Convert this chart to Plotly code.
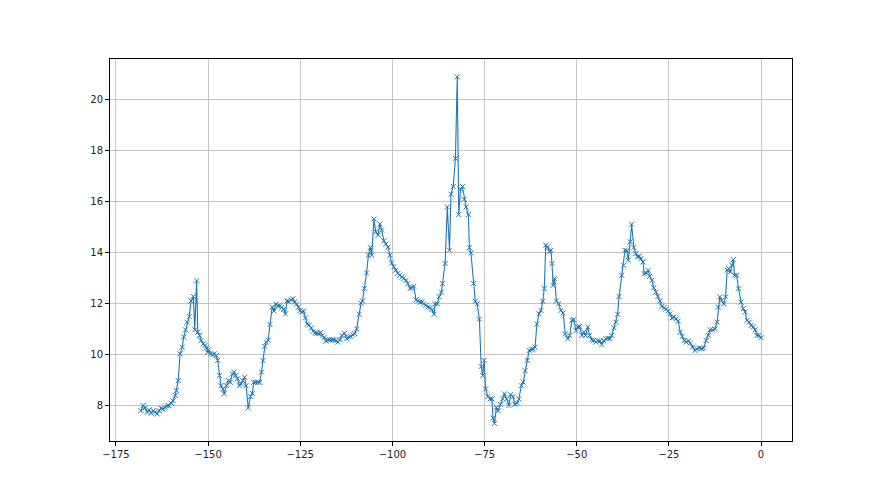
import plotly.graph_objects as go

# sample positions (hours relative to now) and readings
hours = [
    -168.2, -167.6, -167.1, -166.5, -166.0, -165.4, -164.9, -164.4, -163.8, -163.3,
    -162.7, -162.2, -161.7, -161.1, -160.6, -160.0, -159.5, -158.9, -158.6, -158.1,
    -157.6, -157.0, -156.6, -156.1, -155.7, -155.1, -154.6, -154.0, -153.6, -153.1,
    -152.8, -152.3, -151.9, -151.3, -150.8, -150.4, -150.1, -149.9, -149.3, -148.8,
    -148.3, -147.8, -147.4, -146.9, -146.5, -146.0, -145.6, -145.0, -144.5, -144.0,
    -143.4, -143.0, -142.5, -142.0, -141.5, -141.0, -140.6, -140.1, -139.7, -139.1,
    -138.5, -138.0, -137.6, -137.1, -136.5, -136.0, -135.5, -135.1, -134.6, -134.2,
    -133.7, -133.2, -132.6, -132.1, -131.6, -131.0, -130.5, -130.0, -129.5, -129.0,
    -128.6, -128.1, -127.5, -127.0, -126.5, -126.0, -125.5, -125.1, -124.6, -124.1,
    -123.6, -123.1, -122.6, -122.0, -121.5, -121.0, -120.5, -120.0, -119.5, -119.0,
    -118.5, -118.0, -117.5, -117.0, -116.4, -115.9, -115.3, -114.8, -114.2, -113.7,
    -113.0, -112.4, -111.9, -111.3, -110.7, -110.2, -109.7, -109.0, -108.5, -108.1,
    -107.6, -107.0, -106.5, -106.0, -105.6, -105.0, -104.5, -103.9, -103.4, -102.9,
    -102.3, -101.8, -101.2, -100.7, -100.2, -99.6, -99.1, -98.5, -98.0, -97.4,
    -96.9, -96.3, -95.8, -95.2, -94.7, -94.2, -93.6, -93.1, -92.5, -92.0,
    -91.5, -90.9, -90.4, -89.8, -89.3, -88.7, -88.4, -87.8, -87.3, -86.7,
    -86.4, -85.7, -85.1, -84.5, -84.1, -83.5, -82.9, -82.4, -82.0, -81.5,
    -81.0, -80.5, -80.0, -79.4, -79.1, -78.7, -78.0, -77.5, -77.0, -76.4,
    -75.9, -75.5, -75.1, -74.7, -74.1, -73.5, -73.0, -72.7, -72.3, -71.8,
    -71.3, -70.7, -70.1, -69.6, -69.0, -68.4, -67.9, -67.3, -66.8, -66.2,
    -65.7, -65.0, -64.5, -64.0, -63.4, -62.9, -62.3, -61.8, -61.3, -60.8,
    -60.2, -59.7, -59.2, -58.8, -58.4, -57.9, -57.4, -57.0, -56.7, -56.4,
    -56.0, -55.5, -54.9, -54.3, -53.7, -53.1, -52.4, -51.9, -51.3, -50.8,
    -50.2, -49.7, -49.2, -48.6, -48.1, -47.6, -47.0, -46.5, -45.9, -45.4,
    -44.8, -44.3, -43.7, -43.2, -42.7, -42.1, -41.6, -41.0, -40.5, -39.9,
    -39.4, -38.9, -38.5, -37.8, -37.3, -36.9, -36.4, -36.0, -35.5, -35.1,
    -34.5, -34.0, -33.5, -33.0, -32.6, -32.0, -31.7, -31.1, -30.6, -30.2,
    -29.6, -29.1, -28.5, -28.0, -27.4, -26.9, -26.3, -25.8, -25.2, -24.7,
    -24.1, -23.6, -23.0, -22.5, -21.9, -21.4, -20.8, -20.3, -19.7, -19.2,
    -18.6, -17.9, -17.4, -16.7, -16.1, -15.6, -14.9, -14.3, -13.8, -13.1,
    -12.5, -11.9, -11.6, -11.2, -10.7, -10.1, -9.6, -9.2, -8.8, -8.3,
    -7.9, -7.5, -7.2, -6.6, -6.1, -5.4, -4.8, -4.3, -3.8, -3.2,
    -2.7, -2.1, -1.6, -1.1, -0.5, 0.0,
]

values = [
    7.81, 8.01, 7.92, 7.75, 7.84, 7.71, 7.81, 7.75, 7.68, 7.81,
    7.90, 7.88, 7.94, 8.00, 8.00, 8.10, 8.20, 8.40, 8.60, 8.99,
    10.04, 10.30, 10.70, 10.98, 11.28, 11.50, 12.11, 12.29, 10.98, 12.90,
    10.89, 10.76, 10.56, 10.43, 10.37, 10.27, 10.10, 10.20, 10.04, 10.00,
    10.04, 9.97, 9.78, 9.19, 8.79, 8.66, 8.47, 8.79, 8.99, 8.92,
    9.25, 9.32, 9.19, 9.06, 8.79, 8.86, 8.99, 9.12, 8.79, 7.92,
    8.36, 8.49, 8.92, 8.92, 8.92, 8.92, 9.32, 9.78, 10.33, 10.50,
    10.57, 11.19, 11.87, 11.72, 11.99, 11.92, 11.92, 11.86, 11.78, 11.60,
    12.11, 12.09, 12.16, 12.20, 12.07, 11.99, 11.87, 11.73, 11.68, 11.71,
    11.45, 11.20, 11.16, 11.05, 10.92, 10.86, 10.85, 10.83, 10.87, 10.76,
    10.68, 10.53, 10.59, 10.59, 10.59, 10.59, 10.56, 10.50, 10.59, 10.76,
    10.85, 10.63, 10.70, 10.72, 10.79, 10.83, 11.02, 11.59, 12.03, 12.11,
    12.60, 13.21, 13.91, 14.21, 13.91, 15.32, 14.82, 14.69, 15.13, 14.89,
    14.47, 14.34, 14.23, 13.91, 13.60, 13.45, 13.32, 13.19, 13.12, 13.05,
    12.99, 12.92, 12.79, 12.60, 12.64, 12.69, 12.16, 12.11, 12.07, 12.07,
    12.00, 11.94, 11.87, 11.85, 11.77, 11.59, 12.00, 12.00, 12.27, 12.46,
    12.79, 13.58, 15.80, 14.10, 16.30, 16.60, 17.70, 20.90, 15.50, 16.50,
    16.60, 16.10, 15.80, 15.50, 14.20, 14.00, 12.80, 12.10, 12.00, 11.40,
    9.54, 9.19, 9.78, 8.66, 8.36, 8.27, 8.27, 7.52, 7.31, 7.94,
    7.80, 8.06, 8.27, 8.47, 8.27, 8.01, 8.44, 8.36, 8.06, 8.10,
    8.27, 8.79, 8.93, 9.38, 9.78, 10.17, 10.20, 10.23, 10.30, 11.20,
    11.61, 11.74, 12.10, 12.60, 14.30, 14.23, 14.04, 14.10, 13.58, 12.72,
    12.99, 12.11, 12.00, 11.74, 11.64, 10.82, 10.63, 10.76, 11.35, 11.38,
    10.95, 11.09, 11.11, 10.76, 10.89, 10.76, 11.09, 10.76, 10.59, 10.56,
    10.50, 10.56, 10.54, 10.40, 10.56, 10.63, 10.65, 10.63, 10.76, 11.06,
    11.28, 11.59, 12.29, 13.12, 13.51, 14.10, 14.08, 13.71, 14.43, 15.12,
    14.21, 13.97, 13.84, 13.87, 13.77, 13.64, 13.18, 13.21, 13.31, 13.08,
    12.92, 12.63, 12.46, 12.29, 12.11, 11.90, 11.85, 11.79, 11.72, 11.61,
    11.45, 11.48, 11.41, 11.32, 10.89, 10.72, 10.56, 10.50, 10.54, 10.46,
    10.30, 10.17, 10.24, 10.27, 10.24, 10.26, 10.56, 10.76, 10.98, 10.98,
    11.02, 11.28, 11.87, 12.27, 12.14, 12.00, 12.27, 13.32, 13.38, 13.25,
    13.51, 13.73, 13.12, 13.12, 12.59, 12.07, 11.81, 11.68, 11.35, 11.28,
    11.15, 11.09, 10.98, 10.76, 10.76, 10.67,
]

x_ticks = [-175, -150, -125, -100, -75, -50, -25, 0]
y_ticks = [8, 10, 12, 14, 16, 18, 20]

LINE_COLOR = "#1f77b4"
GRID_COLOR = "#c4c4c4"

fig = go.Figure()

fig.add_trace(go.Scatter(
    x=hours,
    y=values,
    mode="lines+markers",
    line=dict(color=LINE_COLOR, width=1.1),
    marker=dict(symbol="x-thin", size=5, line=dict(color=LINE_COLOR, width=1)),
    showlegend=False,
))

axis_style = dict(
    showgrid=True,
    gridcolor=GRID_COLOR,
    gridwidth=1,
    zeroline=False,
    showline=True,
    linecolor="black",
    linewidth=1,
    mirror=True,
    ticks="outside",
    ticklen=4,
    tickwidth=1,
    tickcolor="black",
    tickfont=dict(family="DejaVu Sans", size=10, color="#222222"),
)

fig.update_xaxes(range=[-176.6, 8.4], tickvals=x_ticks, **axis_style)
fig.update_yaxes(range=[6.62, 21.6], tickvals=y_ticks, **axis_style)

# the page body adds an 8px offset, so margins are trimmed to match
fig.update_layout(
    width=880,
    height=495,
    margin=dict(l=102, r=96, t=51, b=62),
    paper_bgcolor="white",
    plot_bgcolor="white",
    font=dict(family="DejaVu Sans", size=10, color="#222222"),
)

fig.write_html("out.html")
